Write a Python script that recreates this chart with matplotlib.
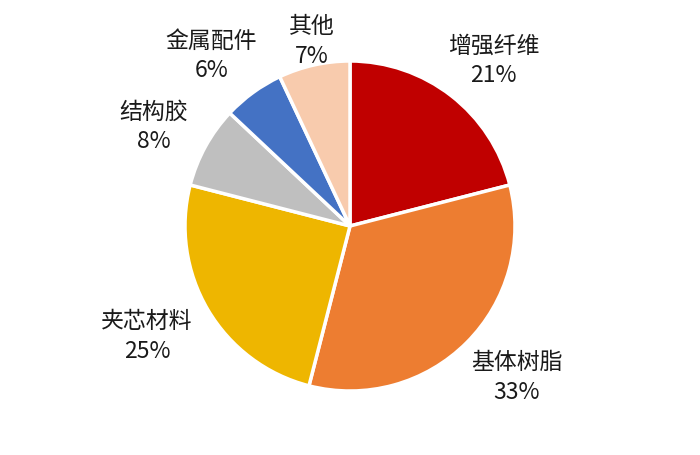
import numpy as np
import matplotlib
matplotlib.use("Agg")
import matplotlib.pyplot as plt

plt.rcParams['font.family'] = ['Noto Sans CJK SC', 'DejaVu Sans']

# data
labels = ["增强纤维", "基体树脂", "夹芯材料", "结构胶", "金属配件", "其他"]
shares = [21, 33, 25, 8, 6, 7]
colors = ["#C00000", "#ED7D31", "#EEB600", "#BFBFBF", "#4472C4", "#F8CBAD"]

# label centres in pie-radius units (pie centred at 0,0)
label_xy = [(0.87, 1.00), (1.01, -0.92), (-1.23, -0.67),
            (-1.19, 0.60), (-0.84, 1.03), (-0.23, 1.12)]

fig = plt.figure(figsize=(7, 4.55), dpi=100)
ax = fig.add_axes([0, 0, 1, 1])

wedges, _ = ax.pie(shares, colors=colors, startangle=90, counterclock=False,
                   radius=1.0, center=(0, 0),
                   wedgeprops=dict(edgecolor="white", linewidth=2.5))

for lab, val, (x, y) in zip(labels, shares, label_xy):
    ax.text(x, y, f"{lab}\n{val}%", ha="center", va="center",
            fontsize=16.5, linespacing=1.38, color="#1a1a1a")

r_px = 165.0
ax.set_xlim(-350 / r_px, 350 / r_px)
ax.set_ylim(-229 / r_px, 226 / r_px)
ax.set_aspect("equal")
ax.axis("off")

fig.savefig("out.png", dpi=100)
